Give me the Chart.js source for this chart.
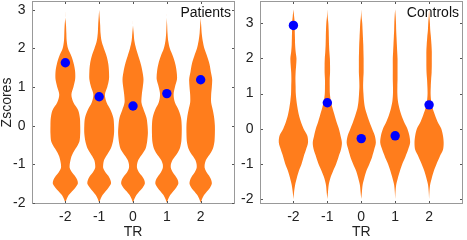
<!DOCTYPE html>
<html>
<head>
<meta charset="utf-8">
<script src="https://cdn.jsdelivr.net/npm/chart.js@4"></script>
<style>
  body { margin: 0; background: #fff; }
  #wrap { position: relative; width: 467px; height: 240px; }
  canvas { position: absolute; top: 0; }
</style>
</head>
<body>
<div id="wrap">
  <canvas id="patients" width="236" height="240" style="left:0"></canvas>
  <canvas id="controls" width="231" height="240" style="left:236px"></canvas>
</div>
<script>
// categories / ticks
const TR = [-2, -1, 0, 1, 2];
const Z_TICKS = [-2, -1, 0, 1, 2, 3];

// Patients: Zscore levels and violin half-widths (in TR units) at each level
const patLevels = [-2.0, -1.9, -1.8, -1.7, -1.6, -1.5, -1.4, -1.3, -1.2, -1.1, -1.0, -0.9, -0.8, -0.7, -0.6, -0.5, -0.4, -0.2, 0.0, 0.2, 0.4, 0.6, 0.8, 1.0, 1.2, 1.4, 1.6, 1.8, 2.0, 2.2, 2.4, 2.6, 2.8, 3.0];
const patM2 = [0, 0.04, 0.10, 0.20, 0.30, 0.37, 0.35, 0.28, 0.19, 0.13, 0.13, 0.15, 0.18, 0.23, 0.30, 0.37, 0.42, 0.44, 0.44, 0.43, 0.38, 0.24, 0.18, 0.24, 0.29, 0.29, 0.25, 0.18, 0.08, 0.04, 0.03, 0.02, 0, 0];
const patM1 = [0, 0.04, 0.10, 0.19, 0.28, 0.35, 0.33, 0.27, 0.18, 0.12, 0.12, 0.14, 0.20, 0.27, 0.34, 0.38, 0.41, 0.44, 0.44, 0.42, 0.34, 0.22, 0.17, 0.24, 0.29, 0.29, 0.27, 0.22, 0.14, 0.07, 0.04, 0.03, 0.015, 0];
const pat0  = [0, 0.04, 0.10, 0.19, 0.29, 0.35, 0.33, 0.26, 0.17, 0.12, 0.12, 0.15, 0.22, 0.30, 0.37, 0.40, 0.42, 0.44, 0.43, 0.40, 0.32, 0.25, 0.26, 0.29, 0.31, 0.28, 0.23, 0.16, 0.09, 0.04, 0.02, 0, 0, 0];
const pat1  = [0, 0.04, 0.10, 0.19, 0.28, 0.34, 0.32, 0.25, 0.17, 0.12, 0.12, 0.16, 0.24, 0.32, 0.38, 0.41, 0.43, 0.44, 0.44, 0.42, 0.35, 0.24, 0.20, 0.24, 0.30, 0.29, 0.25, 0.18, 0.09, 0.04, 0.02, 0.01, 0, 0];
const pat2  = [0, 0.04, 0.10, 0.19, 0.28, 0.33, 0.31, 0.25, 0.17, 0.12, 0.12, 0.15, 0.22, 0.30, 0.36, 0.39, 0.41, 0.42, 0.42, 0.40, 0.36, 0.31, 0.31, 0.33, 0.34, 0.30, 0.26, 0.19, 0.11, 0.06, 0.03, 0.015, 0, 0];
const patMeans = [1.63, 0.75, 0.51, 0.83, 1.19];

// Controls
const conLevels = [-2.0, -1.8, -1.6, -1.4, -1.2, -1.0, -0.8, -0.6, -0.4, -0.2, 0.0, 0.2, 0.4, 0.6, 0.8, 1.0, 1.2, 1.4, 1.6, 1.8, 2.0, 2.2, 2.4, 2.6, 2.8, 3.0, 3.2, 3.4];
const conM2 = [0, 0.02, 0.05, 0.10, 0.16, 0.24, 0.30, 0.37, 0.43, 0.41, 0.30, 0.22, 0.16, 0.12, 0.09, 0.07, 0.065, 0.06, 0.065, 0.08, 0.09, 0.065, 0.05, 0.045, 0.04, 0.04, 0.02, 0];
const conM1 = [0, 0.02, 0.04, 0.09, 0.17, 0.26, 0.33, 0.40, 0.43, 0.39, 0.34, 0.27, 0.21, 0.15, 0.10, 0.075, 0.07, 0.07, 0.08, 0.08, 0.075, 0.06, 0.05, 0.045, 0.04, 0.03, 0.01, 0];
const con0  = [0, 0.02, 0.04, 0.09, 0.15, 0.24, 0.32, 0.38, 0.43, 0.40, 0.32, 0.24, 0.17, 0.11, 0.08, 0.065, 0.055, 0.06, 0.07, 0.07, 0.07, 0.065, 0.06, 0.05, 0.04, 0.03, 0.01, 0];
const con1  = [0, 0.01, 0.03, 0.08, 0.14, 0.21, 0.30, 0.38, 0.44, 0.42, 0.36, 0.26, 0.18, 0.12, 0.08, 0.065, 0.065, 0.07, 0.07, 0.07, 0.07, 0.06, 0.05, 0.04, 0.03, 0.025, 0.015, 0];
const con2  = [0, 0.01, 0.03, 0.08, 0.14, 0.22, 0.31, 0.41, 0.43, 0.41, 0.36, 0.25, 0.17, 0.10, 0.06, 0.045, 0.05, 0.06, 0.075, 0.08, 0.08, 0.08, 0.07, 0.055, 0.035, 0.025, 0.01, 0];
const conMeans = [2.94, 0.74, -0.28, -0.2, 0.68];

const ORANGE = '#ff7d1c';
const BLUE = '#0000ff';
const FONT = '"Liberation Sans", Arial, sans-serif';

// box round the plot area with small inward ticks, plus the group label
const frame = {
    id: 'frame',
    afterDraw(chart, args, opts) {
        const ctx = chart.ctx;
        const a = chart.chartArea;
        const x = chart.scales.x, y = chart.scales.y;
        const l = Math.round(a.left), t = Math.round(a.top), r = Math.round(a.right), b = Math.round(a.bottom);
        ctx.save();
        ctx.strokeStyle = '#999';
        ctx.lineWidth = 1;
        ctx.strokeRect(l + 0.5, t + 0.5, r - l - 1, b - t - 1);
        ctx.strokeStyle = '#555';
        ctx.beginPath();
        x.ticks.forEach(tk => {
            const px = Math.round(x.getPixelForValue(tk.value)) + 0.5;
            ctx.moveTo(px, b - 1); ctx.lineTo(px, b - 3);
            ctx.moveTo(px, t + 1); ctx.lineTo(px, t + 3);
        });
        y.ticks.forEach(tk => {
            const py = Math.round(y.getPixelForValue(tk.value)) + 0.5;
            ctx.moveTo(l + 1, py); ctx.lineTo(l + 3, py);
            ctx.moveTo(r - 1, py); ctx.lineTo(r - 3, py);
        });
        ctx.stroke();
        ctx.fillStyle = '#111';
        ctx.font = '14px ' + FONT;
        ctx.textAlign = 'right';
        ctx.textBaseline = 'middle';
        ctx.fillText(opts.text, r - 4, t + 12);
        ctx.restore();
    }
};

function violinSets(levels, widths) {
    const sets = [];
    widths.forEach((w, i) => {
        const c = TR[i];
        sets.push({
            data: levels.map((z, k) => ({x: c - w[k], y: z})),
            fill: false
        });
        sets.push({
            data: levels.map((z, k) => ({x: c + w[k], y: z})),
            fill: '-1'
        });
    });
    return sets;
}

function makePanel(id, cfg) {
    const ctx = document.getElementById(id).getContext('2d');
    const datasets = [{
        data: TR.map((t, i) => ({x: t, y: cfg.means[i]})),
        showLine: false,
        pointRadius: 4.7,
        pointBackgroundColor: BLUE,
        pointBorderWidth: 0,
        borderColor: BLUE
    }].concat(violinSets(cfg.levels, cfg.widths).map(d => Object.assign(d, {
        pointRadius: 0,
        borderWidth: 1,
        borderColor: 'rgba(0,0,0,0)',
        backgroundColor: ORANGE,
        tension: 0.3
    })));

    return new Chart(ctx, {
        type: 'line',
        data: { datasets: datasets },
        plugins: [frame],
        options: {
            responsive: false,
            animation: false,
            events: [],
            indexAxis: 'y',
            layout: { autoPadding: false, padding: { top: 1, right: cfg.padRight, left: 0, bottom: 0 } },
            plugins: {
                legend: { display: false },
                tooltip: { enabled: false },
                frame: { text: cfg.label }
            },
            scales: {
                x: {
                    type: 'linear',
                    min: -3, max: 3,
                    grid: { display: false, drawTicks: false },
                    border: { display: false },
                    afterBuildTicks: s => { s.ticks = TR.map(v => ({value: v})); },
                    afterFit: s => { s.height = 36; s.paddingLeft = 0; s.paddingRight = 0; },
                    ticks: { color: '#222', padding: 5, font: { family: FONT, size: 14 } },
                    title: {
                        display: true, text: 'TR', color: '#222',
                        padding: { top: 0, bottom: 1 },
                        font: { family: FONT, size: 14, lineHeight: 1 }
                    }
                },
                y: {
                    type: 'linear',
                    min: cfg.yMin, max: cfg.yMax,
                    grid: { display: false, drawTicks: false },
                    border: { display: false },
                    afterBuildTicks: s => { s.ticks = Z_TICKS.map(v => ({value: v})); },
                    afterFit: s => { s.width = cfg.yWidth; s.paddingTop = 0; s.paddingBottom = 0; },
                    ticks: { color: '#222', padding: 6, font: { family: FONT, size: 14 } },
                    title: {
                        display: cfg.yTitle !== '', text: cfg.yTitle, color: '#222',
                        padding: 0,
                        font: { family: FONT, size: 14, lineHeight: 1 }
                    }
                }
            }
        }
    });
}

makePanel('patients', {
    label: 'Patients', levels: patLevels, widths: [patM2, patM1, pat0, pat1, pat2],
    means: patMeans, yMin: -2.03, yMax: 3.23, yWidth: 31.5, padRight: 1.5, yTitle: 'Zscores'
});
makePanel('controls', {
    label: 'Controls', levels: conLevels, widths: [conM2, conM1, con0, con1, con2],
    means: conMeans, yMin: -2.14, yMax: 3.635, yWidth: 23.5, padRight: 4, yTitle: ''
});
</script>
</body>
</html>
